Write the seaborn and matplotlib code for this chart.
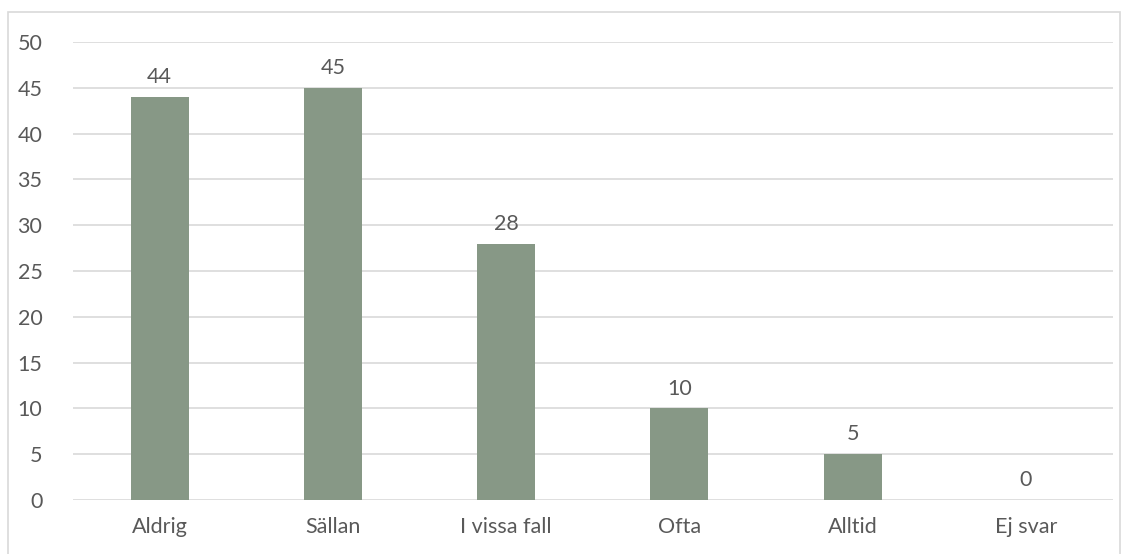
import numpy as np
import pandas as pd
import seaborn as sns
import matplotlib.pyplot as plt
from matplotlib.patches import Rectangle

kategorier = ["Aldrig", "Sällan", "I vissa fall", "Ofta", "Alltid", "Ej svar"]
antal = [44, 45, 28, 10, 5, 0]

df = pd.DataFrame({"svar": kategorier, "antal": antal})

sns.set_theme(style="white")
plt.rcParams["font.family"] = ["Lato", "DejaVu Sans"]
textfarg = "#595959"

fig = plt.figure(figsize=(11.3, 5.54), dpi=100)
ax = fig.add_axes([0.0646, 0.0975, 0.920, 0.8267])

sns.barplot(data=df, x="svar", y="antal", color="#879886", saturation=1,
            width=0.335, linewidth=0, ax=ax, zorder=3)

ax.set_ylim(0, 50)
ax.set_yticks(range(0, 51, 5))
ax.grid(axis="y", color="#d9d9d9", linewidth=1.2, zorder=0)
for s in ax.spines.values():
    s.set_visible(False)
ax.set_xlabel("")
ax.set_ylabel("")
ax.tick_params(axis="both", colors=textfarg, labelsize=15.5, length=0)
ax.tick_params(axis="x", pad=12)
ax.tick_params(axis="y", pad=22)

for i, v in enumerate(antal):
    ax.annotate(str(v), (i, v), xytext=(0, 7), textcoords="offset points",
                ha="center", va="bottom", fontsize=15.5, color=textfarg)

# ram runt diagrammet
fig.patches.append(Rectangle((8 / 1130, -0.05), 1112 / 1130, 1.05 - 12 / 554,
                             transform=fig.transFigure, fill=False,
                             edgecolor="#d9d9d9", linewidth=1.2))

fig.savefig("out.png", dpi=100)
